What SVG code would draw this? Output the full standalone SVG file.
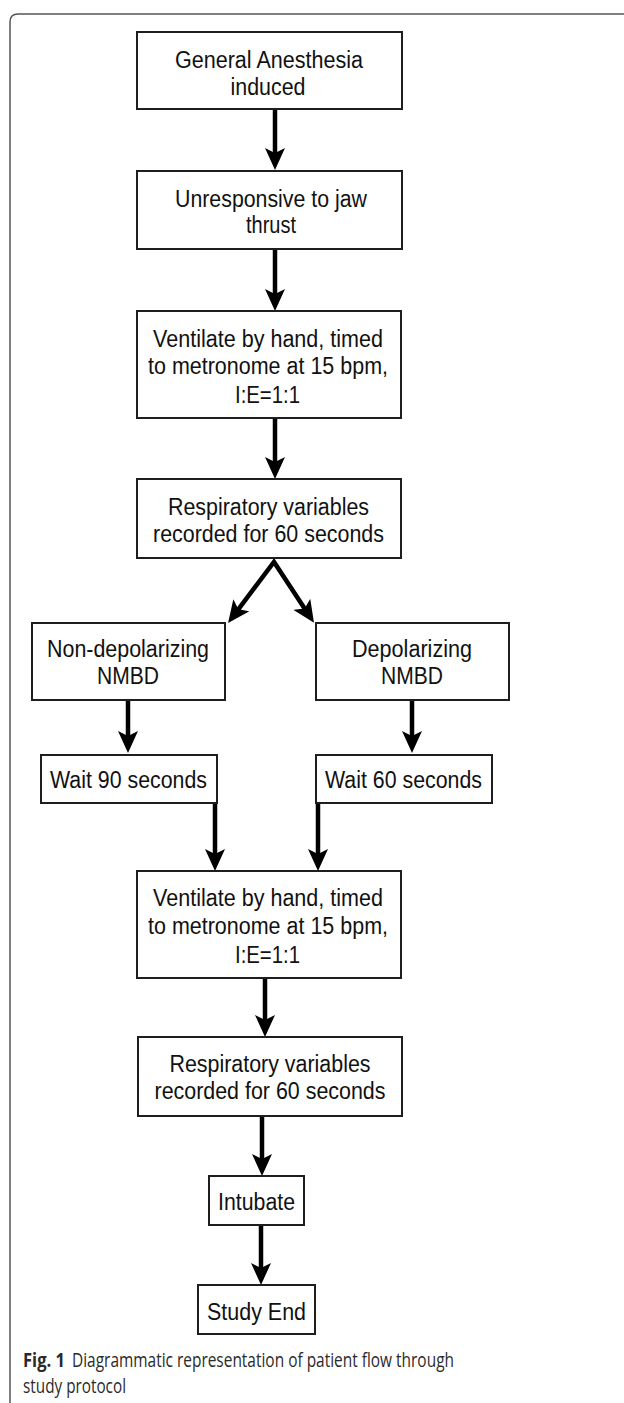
<svg xmlns="http://www.w3.org/2000/svg" width="624" height="1403" viewBox="0 0 624 1403">
<style>
.box{fill:#fff;stroke:#1e1e1e;stroke-width:2}
.t{font-family:"Liberation Sans",Arial,sans-serif;font-size:23px;fill:#111;text-anchor:middle}
.c{stroke:#000;stroke-width:4.5;fill:none;marker-end:url(#ah)}
.cap{font-family:"Open Sans","Noto Sans",sans-serif;font-size:19.5px;fill:#2a2a2a}
</style>
<defs>
<marker id="ah" viewBox="0 0 22 20" refX="10" refY="10" markerWidth="22" markerHeight="20" markerUnits="userSpaceOnUse" orient="auto-start-reverse">
<path d="M0,0 L22,10 L0,20 L5,10 z" fill="#000"/>
</marker>
</defs>
<path d="M10,1403 V22 Q10,14 18,14 H624" fill="none" stroke="#555" stroke-width="1.5"/>
<g id="connectors">
<line class="c" x1="275" y1="109" x2="275" y2="158"/>
<line class="c" x1="275" y1="249" x2="275" y2="299"/>
<line class="c" x1="275" y1="418" x2="275" y2="467"/>
<path class="c" d="M235.3,613.3 L274,562 L307.4,612.7" style="marker-start:url(#ah);stroke-linejoin:miter"/>
<line class="c" x1="128" y1="700" x2="128" y2="741"/>
<line class="c" x1="412" y1="700" x2="412" y2="741"/>
<line class="c" x1="215" y1="803" x2="215" y2="859"/>
<line class="c" x1="318" y1="803" x2="318" y2="859"/>
<line class="c" x1="265" y1="978" x2="265" y2="1025"/>
<line class="c" x1="262" y1="1116" x2="262" y2="1164"/>
<line class="c" x1="261" y1="1225" x2="261" y2="1273"/>
</g>
<g id="n1"><rect class="box" x="137" y="32" width="265" height="77"/>
<text class="t" x="269" y="68" textLength="188" lengthAdjust="spacingAndGlyphs">General Anesthesia</text>
<text class="t" x="268" y="95" textLength="75" lengthAdjust="spacingAndGlyphs">induced</text></g>
<g id="n2"><rect class="box" x="137" y="171" width="265" height="78"/>
<text class="t" x="271" y="207" textLength="192" lengthAdjust="spacingAndGlyphs">Unresponsive to jaw</text>
<text class="t" x="271" y="233" textLength="50" lengthAdjust="spacingAndGlyphs">thrust</text></g>
<g id="n3"><rect class="box" x="137" y="311" width="264" height="107"/>
<text class="t" x="268" y="347" textLength="230" lengthAdjust="spacingAndGlyphs">Ventilate by hand, timed</text>
<text class="t" x="268" y="374" textLength="240" lengthAdjust="spacingAndGlyphs">to metronome at 15 bpm,</text>
<text class="t" x="267.5" y="403" textLength="65" lengthAdjust="spacingAndGlyphs">I:E=1:1</text></g>
<g id="n4"><rect class="box" x="137" y="479" width="264" height="79"/>
<text class="t" x="268.5" y="515" textLength="201" lengthAdjust="spacingAndGlyphs">Respiratory variables</text>
<text class="t" x="268.5" y="542" textLength="231" lengthAdjust="spacingAndGlyphs">recorded for 60 seconds</text></g>
<g id="n5"><rect class="box" x="32" y="623" width="193" height="77"/>
<text class="t" x="128" y="657" textLength="162" lengthAdjust="spacingAndGlyphs">Non-depolarizing</text>
<text class="t" x="128" y="684" textLength="62" lengthAdjust="spacingAndGlyphs">NMBD</text></g>
<g id="n6"><rect class="box" x="316" y="623" width="193" height="77"/>
<text class="t" x="412" y="657" textLength="120" lengthAdjust="spacingAndGlyphs">Depolarizing</text>
<text class="t" x="412" y="684" textLength="62" lengthAdjust="spacingAndGlyphs">NMBD</text></g>
<g id="n7"><rect class="box" x="41" y="755" width="176" height="48"/>
<text class="t" x="128.5" y="788" textLength="157" lengthAdjust="spacingAndGlyphs">Wait 90 seconds</text></g>
<g id="n8"><rect class="box" x="316" y="755" width="176" height="48"/>
<text class="t" x="403.5" y="788" textLength="157" lengthAdjust="spacingAndGlyphs">Wait 60 seconds</text></g>
<g id="n9"><rect class="box" x="137" y="871" width="264" height="107"/>
<text class="t" x="268" y="906" textLength="230" lengthAdjust="spacingAndGlyphs">Ventilate by hand, timed</text>
<text class="t" x="268" y="934" textLength="240" lengthAdjust="spacingAndGlyphs">to metronome at 15 bpm,</text>
<text class="t" x="267.5" y="963" textLength="65" lengthAdjust="spacingAndGlyphs">I:E=1:1</text></g>
<g id="n10"><rect class="box" x="138" y="1037" width="264" height="79"/>
<text class="t" x="270" y="1072" textLength="201" lengthAdjust="spacingAndGlyphs">Respiratory variables</text>
<text class="t" x="270" y="1099" textLength="231" lengthAdjust="spacingAndGlyphs">recorded for 60 seconds</text></g>
<g id="n11"><rect class="box" x="209" y="1176" width="95" height="49"/>
<text class="t" x="256.5" y="1210" textLength="77" lengthAdjust="spacingAndGlyphs">Intubate</text></g>
<g id="n12"><rect class="box" x="198" y="1285" width="117" height="49"/>
<text class="t" x="256.5" y="1320" textLength="99" lengthAdjust="spacingAndGlyphs">Study End</text></g>
<g id="caption">
<text class="cap" x="23" y="1367" font-weight="bold" fill="#1a1a1a" textLength="42" lengthAdjust="spacingAndGlyphs">Fig. 1</text>
<text class="cap" x="72" y="1367" textLength="382" lengthAdjust="spacingAndGlyphs">Diagrammatic representation of patient flow through</text>
<text class="cap" x="23" y="1393" textLength="103" lengthAdjust="spacingAndGlyphs">study protocol</text>
</g>
</svg>
